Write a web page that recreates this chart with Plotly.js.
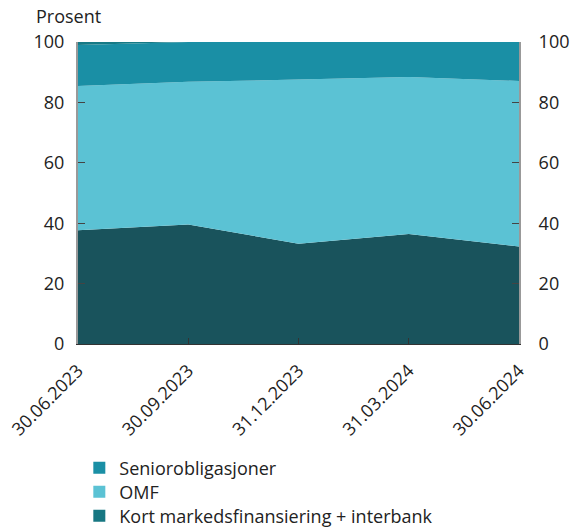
<!DOCTYPE html>
<html><head><meta charset="utf-8">
<script src="https://cdn.plot.ly/plotly-3.0.1.min.js"></script>
<style>html,body{margin:0;padding:0;background:#fff}</style>
</head><body>
<div id="chart" style="width:573px;height:532px"></div>
<script>
const dates = ["30.06.2023","30.09.2023","31.12.2023","31.03.2024","30.06.2024"];
const kort = [37.7, 39.6, 33.2, 36.4, 32.3];
const omf = [47.7, 47.2, 54.4, 52.0, 54.8];
const senior = [13.6, 13.2, 12.4, 11.6, 12.9];
const annet = [1.0, 0.0, 0.0, 0.0, 0.0];
const tickVals = [0, 20, 40, 60, 80, 100];

const font = {family: "Open Sans, sans-serif", size: 18, color: "#222"};
function area(name, y, color) {
  return {x: dates, y: y, name: name, type: "scatter", mode: "lines", stackgroup: "one",
    line: {width: 0, color: color}, fillcolor: color, showlegend: false, hoverinfo: "skip"};
}
function legendItem(name, color, leg) {
  return {x: [null], y: [null], name: name, type: "scatter", mode: "markers", legend: leg,
    marker: {symbol: "square", size: 12, color: color}, showlegend: true};
}
const traces = [
  area("Kort markedsfinansiering + interbank", kort, "#19535c"),
  area("OMF", omf, "#5bc2d4"),
  area("Seniorobligasjoner", senior, "#1a8fa5"),
  area("Annet", annet, "#167a86"),
  legendItem("Seniorobligasjoner", "#1a8fa5", "legend"),
  legendItem("OMF", "#5bc2d4", "legend2"),
  legendItem("Kort markedsfinansiering + interbank", "#177782", "legend3"),
  {x: dates, y: [null,null,null,null,null], yaxis: "y2", type: "scatter", showlegend: false, hoverinfo: "skip"}
];
function leg(y) {
  return {x: 0.003, y: y, xanchor: "left", yanchor: "middle", orientation: "v",
    font: font, itemwidth: 30, bgcolor: "rgba(0,0,0,0)"};
}
const layout = {
  width: 573, height: 532,
  margin: {l: 78, r: 54, t: 42, b: 188, autoexpand: false},
  paper_bgcolor: "#fff", plot_bgcolor: "#fff",
  font: font,
  showlegend: true,
  legend: leg(-0.4106),
  legend2: leg(-0.490),
  legend3: leg(-0.5695),
  xaxis: {type: "category", range: [0, 4], showgrid: false, ticks: "inside", ticklen: 6,
    tickcolor: "#333", showline: true, linecolor: "#333", linewidth: 1, tickangle: -45,
    tickfont: font, zeroline: false, automargin: false, ticklabelstandoff: 8},
  yaxis: {range: [0, 100], tickvals: tickVals, showgrid: false, zeroline: false,
    ticks: "inside", ticklen: 7, tickcolor: "#444", showline: true, linecolor: "#999", linewidth: 2,
    tickfont: font, ticklabelstandoff: 8, automargin: false},
  yaxis2: {range: [0, 100], tickvals: tickVals, overlaying: "y", side: "right", showgrid: false,
    zeroline: false, ticks: "inside", ticklen: 7, tickcolor: "#444", showline: true,
    linecolor: "#999", linewidth: 2, tickfont: font, ticklabelstandoff: 14, automargin: false},
  annotations: [{text: "Prosent", xref: "paper", yref: "paper", x: -0.1, y: 1.0, yshift: 26,
    xanchor: "left", yanchor: "middle", showarrow: false, font: font}]
};
Plotly.newPlot("chart", traces, layout, {displayModeBar: false, staticPlot: true});
</script>
</body></html>
